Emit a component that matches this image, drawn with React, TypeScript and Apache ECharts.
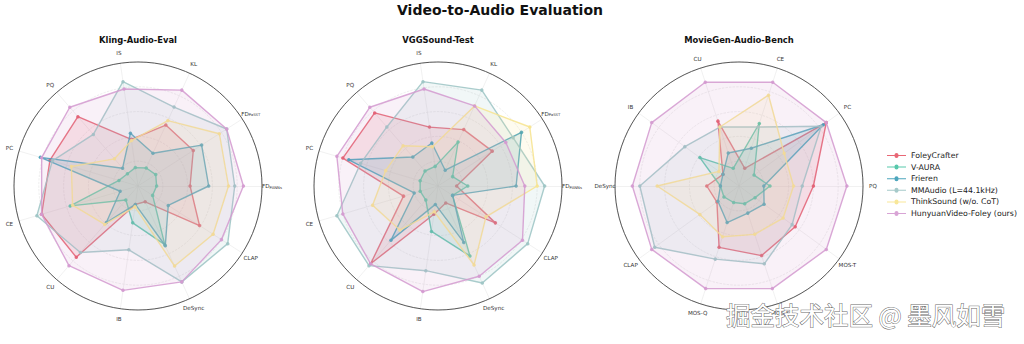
import React, { useEffect, useRef } from 'react';
import * as echarts from 'echarts';

const methods = [
  'FoleyCrafter',
  'V-AURA',
  'Frieren',
  'MMAudio (L=44.1kHz)',
  'ThinkSound (w/o. CoT)',
  'HunyuanVideo-Foley (ours)',
];
const colors = ['#e55766', '#45c2a2', '#3a9cb6', '#9cc4c4', '#f7e48e', '#d49ad0'];

const chartTitles = ['Kling-Audio-Eval', 'VGGSound-Test', 'MovieGen-Audio-Bench'];

// Kling-Audio-Eval (axes counter-clockwise from the right)
const klingAxes = ['FD_PANNs', 'FD_PaSST', 'KL', 'IS', 'PQ', 'PC', 'CE', 'CU', 'IB', 'DeSync', 'CLAP'];
const klingFoleyCrafter = [0.42, 0.53, 0.54, 0.38, 0.74, 0.74, 0.81, 0.76, 0.15, 0.14, 0.59];
const klingVAura = [0.15, 0.17, 0.16, 0.15, 0.13, 0.16, 0.57, 0.15, 0.3, 0.52, 0.14];
const klingFrieren = [0.57, 0.61, 0.29, 0.43, 0.19, 0.82, 0.15, 0.39, 0.15, 0.53, 0.29];
const klingMMAudio = [0.78, 0.85, 0.7, 0.85, 0.55, 0.72, 0.85, 0.71, 0.52, 0.85, 0.86];
const klingThinkSound = [0.73, 0.78, 0.58, 0.37, 0.29, 0.56, 0.55, 0.41, 0.17, 0.71, 0.72];
const klingHunyuan = [0.85, 0.85, 0.85, 0.79, 0.84, 0.81, 0.81, 0.85, 0.85, 0.85, 0.8];

// VGGSound-Test
const vggAxes = ['FD_PANNs', 'FD_PaSST', 'KL', 'IS', 'PQ', 'PC', 'CE', 'CU', 'IB', 'DeSync', 'CLAP'];
const vggFoleyCrafter = [0.15, 0.52, 0.5, 0.48, 0.78, 0.8, 0.29, 0.83, 0.23, 0.15, 0.55];
const vggVAura = [0.24, 0.14, 0.39, 0.16, 0.16, 0.15, 0.15, 0.15, 0.37, 0.62, 0.14];
const vggFrieren = [0.63, 0.8, 0.14, 0.35, 0.31, 0.75, 0.2, 0.58, 0.15, 0.5, 0.14];
const vggMMAudio = [0.86, 0.72, 0.85, 0.85, 0.63, 0.65, 0.85, 0.85, 0.69, 0.86, 0.86];
const vggThinkSound = [0.8, 0.88, 0.71, 0.32, 0.43, 0.44, 0.55, 0.47, 0.21, 0.7, 0.46];
const vggHunyuan = [0.7, 0.65, 0.71, 0.79, 0.84, 0.85, 0.8, 0.83, 0.86, 0.8, 0.81];

// MovieGen-Audio-Bench
const movieAxes = ['PQ', 'PC', 'CE', 'CU', 'IB', 'DeSync', 'CLAP', 'MOS-Q', 'MOS-S', 'MOS-T'];
const movieFoleyCrafter = [0.6, 0.87, 0.15, 0.55, 0.16, 0.26, 0.22, 0.52, 0.59, 0.56];
const movieVAura = [0.25, 0.15, 0.53, 0.15, 0.39, 0.15, 0.15, 0.14, 0.15, 0.16];
const movieFrieren = [0.2, 0.84, 0.32, 0.28, 0.16, 0.15, 0.21, 0.31, 0.23, 0.25];
const movieMMAudio = [0.51, 0.82, 0.5, 0.5, 0.54, 0.8, 0.84, 0.62, 0.66, 0.53];
const movieThinkSound = [0.44, 0.45, 0.77, 0.5, 0.2, 0.66, 0.39, 0.43, 0.41, 0.44];
const movieHunyuan = [0.87, 0.87, 0.88, 0.88, 0.87, 0.86, 0.87, 0.87, 0.87, 0.87];

const watermark = '掘金技术社区 @ 墨风如雪';

const axesList = [klingAxes, vggAxes, movieAxes];
const valuesList = [
  [klingFoleyCrafter, klingVAura, klingFrieren, klingMMAudio, klingThinkSound, klingHunyuan],
  [vggFoleyCrafter, vggVAura, vggFrieren, vggMMAudio, vggThinkSound, vggHunyuan],
  [movieFoleyCrafter, movieVAura, movieFrieren, movieMMAudio, movieThinkSound, movieHunyuan],
];

const centers: [number, number][] = [[138, 186], [438, 186], [739, 186]];
const R = 124;
const LABEL_R = 134;
const FONT = 'DejaVu Sans';

const fmtName = (name: string) => {
  const k = name.indexOf('_');
  return k >= 0 ? name.slice(0, k) + '{sub|' + name.slice(k + 1) + '}' : name;
};

export default function App() {
  const ref = useRef<HTMLDivElement>(null);
  useEffect(() => {
    document.body.style.margin = '0';
    const chart = echarts.init(ref.current!, null, { renderer: 'svg' });

    const radar = axesList.map((axes, i) => ({
      center: centers[i],
      radius: R,
      startAngle: 0,
      shape: 'circle',
      splitNumber: 5,
      indicator: axes.map((n) => ({ name: n, min: 0, max: 1 })),
      axisName: { show: false },
      splitLine: { lineStyle: { color: '#e2e2e2', type: 'dashed', width: 0.6 } },
      splitArea: { show: false },
      axisLine: { lineStyle: { color: '#e8e8e8', width: 0.6 } },
      axisTick: { show: false },
      axisLabel: { show: false },
    }));

    const series: any[] = [];
    valuesList.forEach((vals, r) => {
      vals.forEach((v, m) => {
        series.push({
          type: 'radar',
          radarIndex: r,
          name: methods[m],
          symbol: 'circle',
          symbolSize: 3.5,
          z: 2 + m,
          itemStyle: { color: colors[m], opacity: 0.9 },
          lineStyle: { color: colors[m], width: 1.4, opacity: 0.85 },
          areaStyle: { color: colors[m], opacity: 0.14 },
          data: [{ value: v, name: methods[m] }],
        });
      });
    });

    const axisLabels: any[] = [];
    axesList.forEach((axes, i) => {
      const [cx, cy] = centers[i];
      axes.forEach((name, k) => {
        const a = (k * 2 * Math.PI) / axes.length;
        axisLabels.push({
          type: 'text',
          silent: true,
          z: 5,
          x: cx + LABEL_R * Math.cos(a),
          y: cy - LABEL_R * Math.sin(a),
          style: {
            text: fmtName(name),
            fontSize: 5.6,
            fontFamily: FONT,
            fill: '#333',
            align: 'center',
            verticalAlign: 'middle',
            rich: {
              sub: { fontSize: 3.8, fontFamily: FONT, fill: '#333', verticalAlign: 'bottom', padding: [2.5, 0, 0, 0] },
            },
          },
        });
      });
    });

    const titles: any[] = [
      {
        text: 'Video-to-Audio Evaluation',
        left: 500,
        top: 3,
        padding: 0,
        textAlign: 'center',
        textStyle: { fontSize: 14, fontWeight: 'bold', fontFamily: FONT, color: '#111' },
      },
      ...chartTitles.map((t, i) => ({
        text: t,
        left: centers[i][0],
        top: 36,
        padding: 0,
        textAlign: 'center',
        textStyle: { fontSize: 8.4, fontWeight: 'bold', fontFamily: FONT, color: '#111' },
      })),
    ];

    chart.setOption({
      animation: false,
      backgroundColor: '#fff',
      title: titles,
      legend: {
        data: methods,
        orient: 'vertical',
        left: 887,
        top: 151,
        itemWidth: 19,
        itemHeight: 5,
        itemGap: 2.6,
        icon: 'path://M0,2h7.5a2,2 0 0 1 4,0h7.5v1h-7.5a2,2 0 0 1 -4,0h-7.5z',
        textStyle: { fontSize: 7.8, fontFamily: FONT, color: '#222', lineHeight: 9 },
        padding: 0,
      },
      radar,
      series,
      graphic: [
        ...centers.map((c) => ({
          type: 'circle',
          silent: true,
          z: 1,
          shape: { cx: c[0], cy: c[1], r: R },
          style: { fill: 'none', stroke: '#444', lineWidth: 0.9 },
        })),
        ...axisLabels,
        {
          type: 'text',
          x: 726,
          y: 302,
          z: 100,
          silent: true,
          style: {
            text: watermark,
            fontSize: 24.5,
            fontFamily: 'Noto Sans CJK SC',
            fill: '#ffffff',
            stroke: '#6a6a6a',
            lineWidth: 1,
            verticalAlign: 'top',
          },
        },
      ],
    });
    return () => chart.dispose();
  }, []);
  return <div ref={ref} style={{ width: 1024, height: 344 }} />;
}
